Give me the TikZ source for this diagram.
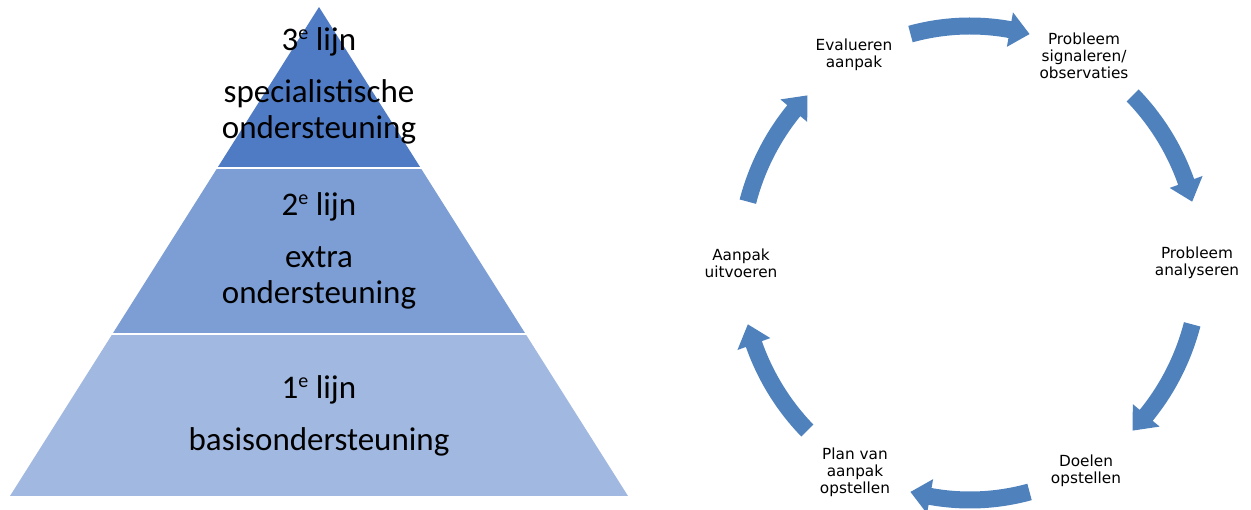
\documentclass[tikz,border=0pt]{standalone}
\usepackage{fontspec}
\setmainfont{Carlito}
\newfontfamily\cycfont{DejaVu Sans}
\definecolor{pyrtop}{RGB}{79,123,197}
\definecolor{pyrmid}{RGB}{124,158,213}
\definecolor{pyrbot}{RGB}{161,184,224}
\definecolor{cyc}{RGB}{79,129,189}
\newcommand\ordsup{\raisebox{0.36em}{\fontsize{20}{20}\selectfont e}}
\begin{document}
\begin{tikzpicture}[x=1pt,y=-1pt,
  pyrtext/.style={anchor=base,inner sep=0pt,font=\fontsize{33}{36}\selectfont},
  cyclabel/.style={align=center,inner sep=0pt,font=\cycfont\fontsize{15.3}{17}\selectfont},
  cycarrow/.style={fill=cyc}]
\useasboundingbox (0,0) rectangle (1251,510);
% pyramid
\fill[pyrtop] (319,7) -- (420.7,168) -- (217.3,168) -- cycle;
\fill[pyrmid] (217.3,168) -- (420.7,168) -- (525.6,334) -- (112.4,334) -- cycle;
\fill[pyrbot] (112.4,334) -- (525.6,334) -- (628,496) -- (10,496) -- cycle;
\draw[white,line width=2pt] (210,168) -- (428,168);
\draw[white,line width=2pt] (105,334) -- (533,334);
\node[pyrtext] (t3a) at (319,51) {3\ordsup{} lijn};
\node[pyrtext] (t3b) at (319,103) {specialistische};
\node[pyrtext] (t3c) at (319,139) {ondersteuning};
\node[pyrtext] (t2a) at (319,216) {2\ordsup{} lijn};
\node[pyrtext] (t2b) at (319,268) {extra};
\node[pyrtext] (t2c) at (319,304) {ondersteuning};
\node[pyrtext] (t1a) at (319,399) {1\ordsup{} lijn};
\node[pyrtext] (t1b) at (319,451) {basisondersteuning};
% cycle labels
\node[cyclabel] (eval) at (854,55) {Evalueren\\aanpak};
\node[cyclabel] (sign) at (1084,56) {Probleem\\signaleren/\\observaties};
\node[cyclabel] (anal) at (1197,263) {Probleem\\analyseren};
\node[cyclabel] (doel) at (1086,471) {Doelen\\opstellen};
\node[cyclabel] (plan) at (855,472) {Plan van\\aanpak\\opstellen};
\node[cyclabel] (uitv) at (741,263) {Aanpak\\uitvoeren};
% cycle arrows
\begin{scope}[shift={(970,263)}]
\foreach \t in {-105,-45,15,75,135,195} {
  \pgfmathsetmacro\b{\t+25}
  \pgfmathsetmacro\e{\t+30}
  \fill[cycarrow] (\t:238.5 and 245.5) arc[start angle=\t, end angle=\b, x radius=238.5, y radius=245.5]
    -- (\b:247.5 and 254.5) -- (\e:230 and 237) -- (\b:212.5 and 219.5) -- (\b:221.5 and 228.5)
    arc[start angle=\b, end angle=\t, x radius=221.5, y radius=228.5] -- cycle;
}
\end{scope}
\end{tikzpicture}
\end{document}
